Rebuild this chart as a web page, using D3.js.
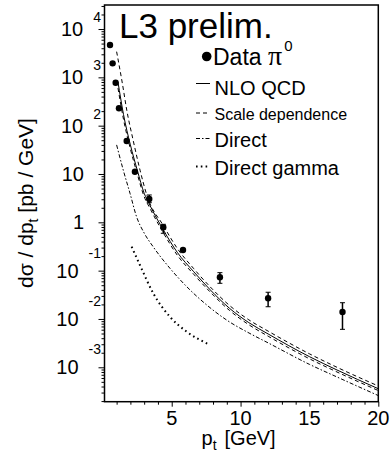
<!DOCTYPE html>
<html><head><meta charset="utf-8">
<script src="https://cdn.jsdelivr.net/npm/d3@7"></script>
<style>body{margin:0;background:#fff}svg{display:block}text{font-family:"Liberation Sans",Arial,sans-serif;fill:#000}</style>
</head><body><svg id="c" width="390" height="459"></svg>
<script>
// ---- data ----
const ptData   = [0.52, 0.71, 0.93, 1.17, 1.73, 2.33, 3.37, 4.39, 5.82, 8.5, 12.0, 17.4];
const yData    = [4670, 1950, 774, 229, 48.2, 11.1, 3.04, 0.79, 0.267, 0.073, 0.0268, 0.0139];
const errLow   = [4670, 1950, 774, 229, 48.2, 11.1, 2.55, 0.593, 0.267, 0.0547, 0.0179, 0.0061];
const errHigh  = [4670, 1950, 774, 229, 48.2, 11.1, 3.68, 0.91, 0.267, 0.0908, 0.0357, 0.0217];

const nloPt = [1.1, 1.5, 2.0, 2.5, 3.0, 3.4, 4.4, 5.4, 6.6, 7.8, 9.2, 10.6, 12, 15, 17, 20];
const nloY  = [800, 170, 40, 12, 4.0, 2.3, 0.69, 0.24, 0.095, 0.040, 0.0166, 0.0084, 0.0049, 0.00166, 0.00088, 0.00036];

const scaleHiPt = [1.0, 1.4, 1.75, 2.2, 2.7, 3.2, 4.4, 5.4, 6.6, 7.8, 9.2, 10.6, 12, 15, 17, 20];
const scaleHiY  = [3400, 800, 200, 50, 12, 3.6, 0.85, 0.29, 0.11, 0.046, 0.019, 0.0096, 0.0056, 0.0019, 0.0010, 0.00041];
const scaleLoPt = [1.1, 1.5, 2.0, 2.5, 3.0, 3.4, 4.4, 5.4, 6.6, 7.8, 9.2, 10.6, 12, 15, 17, 20];
const scaleLoY  = [600, 135, 33, 10, 3.4, 2.0, 0.6, 0.21, 0.084, 0.036, 0.015, 0.0076, 0.0044, 0.0015, 0.0008, 0.00033];

const directPt = [1.0, 1.48, 1.97, 2.45, 3.0, 3.66, 4.87, 6.09, 7.54, 8.99, 10.68, 12, 15, 17, 20];
const directY  = [40, 12.1, 4.0, 1.3, 0.6, 0.31, 0.112, 0.0466, 0.0195, 0.0095, 0.0050, 0.0032, 0.00115, 0.00063, 0.00026];

const gammaPt = [2.09, 2.69, 3.66, 4.87, 6.09, 7.65];
const gammaY  = [0.313, 0.131, 0.034, 0.0111, 0.00545, 0.00303];

const xTickMajor = [5, 10, 15, 20];
const xTickMinor = d3.range(1, 20);
const yDecades   = [-3, -2, -1, 0, 1, 2, 3, 4];
const yTickLabels = [["10","-3"],["10","-2"],["10","-1"],["1",""],["10",""],["10","2"],["10","3"],["10","4"]];

const titleText = "L3 prelim.";
const legendLabels = ["Data", "NLO QCD", "Scale dependence", "Direct", "Direct gamma"];

// ---- layout ----
const L = 104.5, R = 378.3, T = 5, B = 401.7;
const x = d3.scaleLinear().domain([0.12, 20]).range([L, R]);
const y = d3.scaleLog().domain([Math.pow(10, -3.712), Math.pow(10, 4.497)]).range([B, T]);

const svg = d3.select("#c");

// y minor ticks
const yMinor = [];
for (let e = -4; e <= 4; e++) for (let m = 2; m <= 9; m++) { const v = m * Math.pow(10, e); if (v >= y.domain()[0] && v <= y.domain()[1]) yMinor.push(v); }
const yMajor = yDecades.map(e => Math.pow(10, e));

const gy = svg.append("g").attr("transform", `translate(${L},0)`);
gy.call(d3.axisLeft(y).tickValues(yMinor).tickSize(3).tickFormat(""));
gy.append("g").call(d3.axisLeft(y).tickValues(yMajor).tickSize(6).tickFormat(""));
gy.selectAll(".domain").remove();
gy.selectAll("line").attr("stroke", "#000").attr("stroke-width", 1);

const gx = svg.append("g").attr("transform", `translate(0,${B})`);
gx.call(d3.axisBottom(x).tickValues(xTickMinor.filter(v => v % 5 !== 0)).tickSize(3).tickFormat(""));
gx.append("g").call(d3.axisBottom(x).tickValues(xTickMajor).tickSize(5).tickFormat(""));
gx.selectAll(".domain").remove();
gx.selectAll("line").attr("stroke", "#000").attr("stroke-width", 1);

// frame
svg.append("rect").attr("x", L).attr("y", T).attr("width", R - L).attr("height", B - T)
  .attr("fill", "none").attr("stroke", "#000").attr("stroke-width", 1.5);

// x tick labels
svg.append("g").selectAll("text").data(xTickMajor).join("text")
  .attr("x", d => x(d)).attr("y", 425).attr("text-anchor", "middle").attr("font-size", 20).text(d => d);

// y tick labels
const gl = svg.append("g");
yDecades.forEach((e, i) => {
  const yy = y(Math.pow(10, e));
  const [base, ex] = yTickLabels[i];
  const right = 101;
  if (ex === "") {
    gl.append("text").attr("x", 84).attr("y", yy + 7).attr("text-anchor", "end").attr("font-size", 20).text(base);
  } else {
    const et = gl.append("text").attr("x", right).attr("y", yy - (e < 0 ? 13 : 7))
      .attr("text-anchor", "end").attr("font-size", 14).text(ex);
    const w = et.node().getComputedTextLength();
    gl.append("text").attr("x", right - w - 10).attr("y", yy + 7)
      .attr("text-anchor", "end").attr("font-size", 20).text(base);
  }
});

// axis titles
const yt = svg.append("text").attr("transform", "translate(33,203) rotate(-90)").attr("text-anchor", "middle").attr("font-size", 21);
yt.append("tspan").text("dσ / dp");
yt.append("tspan").attr("font-size", 14).attr("dy", 5).text("t");
yt.append("tspan").attr("dy", -5).text(" [pb / GeV]");

const xt = svg.append("text").attr("x", 201.5).attr("y", 445).attr("font-size", 20);
xt.append("tspan").text("p");
xt.append("tspan").attr("font-size", 14).attr("dy", 5).text("t");
xt.append("tspan").attr("dy", -5).attr("dx", 8).text("[GeV]");

// curves
const line = d3.line().x(d => x(d[0])).y(d => y(d[1])).curve(d3.curveMonotoneX);
const zip = (a, b) => a.map((v, i) => [v, b[i]]);
const plot = svg.append("g");
plot.append("path").attr("d", line(zip(gammaPt, gammaY))).attr("fill", "none").attr("stroke", "#000").attr("stroke-width", 2).attr("stroke-dasharray", "1.6,3.2");
plot.append("path").attr("d", line(zip(directPt, directY))).attr("fill", "none").attr("stroke", "#000").attr("stroke-width", 1).attr("stroke-dasharray", "4,2,1.5,2");
plot.append("path").attr("d", line(zip(scaleHiPt, scaleHiY))).attr("fill", "none").attr("stroke", "#000").attr("stroke-width", 1).attr("stroke-dasharray", "4,3");
plot.append("path").attr("d", line(zip(scaleLoPt, scaleLoY))).attr("fill", "none").attr("stroke", "#000").attr("stroke-width", 1).attr("stroke-dasharray", "4,3");
plot.append("path").attr("d", line(zip(nloPt, nloY))).attr("fill", "none").attr("stroke", "#000").attr("stroke-width", 1);

// data points with error bars
const pts = ptData.map((p, i) => ({p, v: yData[i], lo: errLow[i], hi: errHigh[i]}));
const eb = plot.append("g").selectAll("g").data(pts.filter(d => d.hi > d.v * 1.02)).join("g");
eb.append("line").attr("x1", d => x(d.p)).attr("x2", d => x(d.p)).attr("y1", d => y(d.lo)).attr("y2", d => y(d.hi)).attr("stroke", "#000").attr("stroke-width", 1.5);
eb.append("line").attr("x1", d => x(d.p) - 2.5).attr("x2", d => x(d.p) + 2.5).attr("y1", d => y(d.lo)).attr("y2", d => y(d.lo)).attr("stroke", "#000").attr("stroke-width", 1);
eb.append("line").attr("x1", d => x(d.p) - 2.5).attr("x2", d => x(d.p) + 2.5).attr("y1", d => y(d.hi)).attr("y2", d => y(d.hi)).attr("stroke", "#000").attr("stroke-width", 1);
plot.append("g").selectAll("circle").data(pts).join("circle")
  .attr("cx", d => x(d.p)).attr("cy", d => y(d.v)).attr("r", 3.2).attr("fill", "#000");

// title
svg.append("text").attr("x", 119).attr("y", 38).attr("font-size", 35).text(titleText);

// legend
const lg = svg.append("g");
lg.append("circle").attr("cx", 206.7).attr("cy", 56.5).attr("r", 4.8).attr("fill", "#000");
const t0 = lg.append("text").attr("x", 213).attr("y", 65).attr("font-size", 23);
t0.append("tspan").text(legendLabels[0] + " ");
t0.append("tspan").attr("font-family", "Liberation Serif, serif").attr("font-size", 28).text("π");
t0.append("tspan").attr("font-size", 15).attr("dy", -14).attr("dx", 2).text("0");

const legRows = [
  {label: legendLabels[1], ly: 83.5, ty: 95, fs: 20, dash: null, w: 1},
  {label: legendLabels[2], ly: 113, ty: 120, fs: 16, dash: "4,3", w: 1},
  {label: legendLabels[3], ly: 138.5, ty: 146.5, fs: 20, dash: "4,2,1.5,2", w: 1},
  {label: legendLabels[4], ly: 166.5, ty: 175, fs: 20, dash: "1.6,3.2", w: 2}
];
legRows.forEach(r => {
  lg.append("line").attr("x1", 196).attr("x2", 210).attr("y1", r.ly).attr("y2", r.ly)
    .attr("stroke", "#000").attr("stroke-width", r.w).attr("stroke-dasharray", r.dash);
  lg.append("text").attr("x", 214.5).attr("y", r.ty).attr("font-size", r.fs).text(r.label);
});
</script></body></html>
